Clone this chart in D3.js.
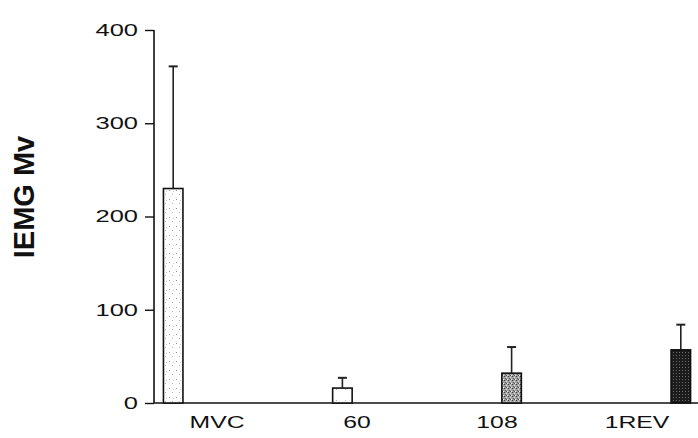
<!DOCTYPE html>
<html>
<head>
<meta charset="utf-8">
<script src="https://cdn.jsdelivr.net/npm/d3@7"></script>
<style>
  html, body { margin: 0; padding: 0; background: #fff; }
  svg { display: block; }
  text { font-family: "Liberation Sans", Arial, sans-serif; fill: #111; }
</style>
</head>
<body>
<svg id="chart" width="698" height="438"></svg>
<script>
// Integrated EMG per condition (mean and mean + SD)
const categories = ["MVC", "60", "108", "1REV"];
const means      = [230, 16, 32, 57];
const errorTops  = [361, 27, 60, 84];
const yTicks     = [0, 100, 200, 300, 400];
const yTitle     = "IEMG Mv";

const svg = d3.select("#chart");
const W = 698, H = 438;
const xStretch = 1.5;   // wide typeface used for axis numbers and names

// Scales: each condition owns one slot of a four-slot group
const x0 = d3.scaleBand().domain(categories).range([147, 707]).padding(0);
const x1 = d3.scaleBand().domain(categories).range([0, x0.bandwidth()])
  .paddingInner(0.332).paddingOuter(0.563);
const y = d3.scaleLinear().domain([0, 400]).range([403, 30]);
const axisX = 154;

// Stipple fills
const defs = svg.append("defs");
function stipple(id, bg, size, dots) {
  const p = defs.append("pattern").attr("id", id)
    .attr("patternUnits", "userSpaceOnUse").attr("width", size[0]).attr("height", size[1]);
  p.append("rect").attr("width", size[0]).attr("height", size[1]).attr("fill", bg);
  dots.forEach(d => p.append("rect").attr("x", d[0]).attr("y", d[1])
    .attr("width", d[2] || 1).attr("height", d[3] || 1).attr("fill", d[4]));
}
stipple("fMVC", "#fff", [7, 9], [[1, 1, 1, 1, "#9a9a9a"], [4, 5, 1, 1, "#b5b5b5"], [5, 2, 1, 1, "#cfcfcf"]]);
stipple("f60", "#fff", [9, 11], [[3, 4, 1, 1, "#b0b0b0"]]);
stipple("f108", "#a3a3a3", [4, 4], [[0, 0, 1, 1, "#3a3a3a"], [2, 1, 1, 1, "#e2e2e2"], [1, 2, 1, 1, "#555"], [3, 3, 1, 1, "#ededed"], [2, 3, 1, 1, "#4a4a4a"]]);
stipple("f1REV", "#1c1c1c", [3, 3], [[1, 1, 1, 1, "#6a6a6a"]]);
const fills = { "MVC": "url(#fMVC)", "60": "url(#f60)", "108": "url(#f108)", "1REV": "url(#f1REV)" };

// Axis title
svg.append("text")
  .attr("transform", `translate(34, 197) rotate(-90)`)
  .attr("text-anchor", "middle")
  .style("font-size", "29px").style("font-weight", "bold")
  .text(yTitle);

// Y axis
const yAxis = svg.append("g").attr("transform", `translate(${axisX},0)`)
  .call(d3.axisLeft(y).tickValues(yTicks).tickSize(9).tickSizeOuter(0).tickPadding(0));
yAxis.select(".domain").attr("stroke", "#111").attr("stroke-width", 1.6)
  .attr("d", `M0,${y(400)}V${y(0)}`);
yAxis.selectAll(".tick line").attr("stroke", "#111").attr("stroke-width", 1.4);
yAxis.selectAll(".tick text")
  .attr("x", null).attr("dy", null)
  .attr("transform", `translate(-16, 1) scale(${xStretch},1)`)
  .attr("dominant-baseline", "middle")
  .attr("fill", "#111")
  .style("font-size", "17px").style("font-family", '"Liberation Sans", Arial, sans-serif');

// X axis
const xAxis = svg.append("g").attr("transform", `translate(0,${y(0)})`)
  .call(d3.axisBottom(x0).tickSize(0).tickSizeOuter(0).tickPadding(0));
xAxis.select(".domain").attr("stroke", "#111").attr("stroke-width", 1.6)
  .attr("d", `M${axisX},0H${W}`);
xAxis.selectAll(".tick text")
  .attr("y", null).attr("dy", null)
  .attr("transform", `translate(0, 25) scale(${xStretch},1)`)
  .attr("fill", "#111")
  .style("font-size", "16.5px").style("font-family", '"Liberation Sans", Arial, sans-serif');

// Bars with upward error whiskers
const data = categories.map((c, i) => ({ c, v: means[i], e: errorTops[i] }));
const g = svg.append("g");
const cx = d => x0(d.c) + x1(d.c) + x1.bandwidth() / 2;

g.selectAll("line.err").data(data).join("line").attr("class", "err")
  .attr("x1", cx).attr("x2", cx)
  .attr("y1", d => y(d.v)).attr("y2", d => y(d.e))
  .attr("stroke", "#222").attr("stroke-width", 1.6);
g.selectAll("line.cap").data(data).join("line").attr("class", "cap")
  .attr("x1", d => cx(d) - 4.5).attr("x2", d => cx(d) + 4.5)
  .attr("y1", d => y(d.e)).attr("y2", d => y(d.e))
  .attr("stroke", "#222").attr("stroke-width", 2);

g.selectAll("rect.bar").data(data).join("rect").attr("class", "bar")
  .attr("x", d => x0(d.c) + x1(d.c))
  .attr("width", x1.bandwidth())
  .attr("y", d => y(d.v))
  .attr("height", d => y(0) - y(d.v))
  .attr("fill", d => fills[d.c])
  .attr("stroke", "#111").attr("stroke-width", 1.6);
</script>
</body>
</html>
